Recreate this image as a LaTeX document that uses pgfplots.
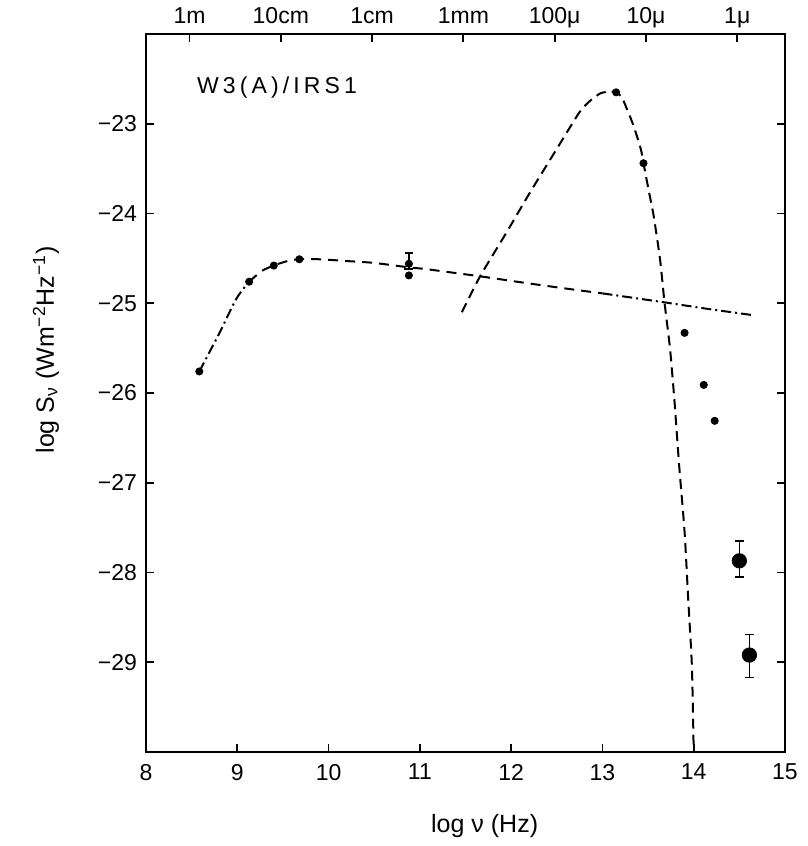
\documentclass[border=0pt]{standalone}
\usepackage{fontspec}
\setmainfont{Liberation Sans}
\usepackage{pgfplots}
\pgfplotsset{compat=1.18}
\begin{document}
\begin{tikzpicture}
\useasboundingbox (-73pt,-47pt) rectangle (331pt,376pt);
\begin{axis}[
  width=319.5pt, height=359pt, scale only axis,
  xmin=8, xmax=15, ymin=-30, ymax=-22,
  xtick={8,9,10,11,12,13,14,15},
  xticklabels={8,9,10,11,12,13,14,15},
  ytick={-29,-28,-27,-26,-25,-24,-23},
  yticklabels={−29,−28,−27,−26,−25,−24,−23},
  xtick pos=lower, ytick pos=both, tick align=inside,
  major tick length=4pt,
  axis line style={line width=1.2pt},
  tick style={line width=0.9pt, black},
  xticklabel style={yshift=-2.5pt, font=\fontsize{11.5}{13}\selectfont},
  yticklabel style={xshift=-1pt, font=\fontsize{11.5}{13}\selectfont},
  xlabel={log ν (Hz)},
  ylabel={log S\textsubscript{ν} (Wm\textsuperscript{−2}Hz\textsuperscript{−1})},
  xlabel style={at={(rel axis cs:0.53,-0.103)}, anchor=center, font=\fontsize{12.5}{14}\selectfont},
  ylabel style={at={(rel axis cs:-0.1565,0.56)}, anchor=center, font=\fontsize{12.5}{14}\selectfont},
  clip=false,
]
% free-free fit: rising part (dash-dot)
\addplot[black, line width=1pt, smooth, dash pattern=on 5pt off 2pt on 1pt off 2pt] coordinates {
 (8.584,-25.76) (8.81,-25.32) (8.99,-24.95) (9.13,-24.76)
};
% flat part (dashed)
\addplot[black, line width=1pt, smooth, dash pattern=on 5pt off 3.5pt] coordinates {
 (9.13,-24.76) (9.27,-24.64) (9.40,-24.58) (9.55,-24.53) (9.68,-24.51) (9.9,-24.51)
 (10.2,-24.53) (10.49,-24.55) (10.88,-24.60) (11.07,-24.62) (11.44,-24.67) (11.66,-24.70)
 (12.2,-24.78) (12.7,-24.85) (13.0,-24.89)
};
% tail (dash-dot)
\addplot[black, line width=1pt, dash pattern=on 5pt off 2pt on 1pt off 2pt] coordinates {
 (13.0,-24.89) (13.68,-24.99) (14.2,-25.07) (14.63,-25.13)
};
% dust curve
\addplot[black, line width=1pt, smooth, tension=0.4, dash pattern=on 5pt off 3pt] coordinates {
 (11.46,-25.10) (11.66,-24.70) (11.95,-24.21) (12.21,-23.76) (12.50,-23.28)
 (12.75,-22.87) (12.87,-22.74) (12.98,-22.66) (13.09,-22.64) (13.15,-22.65)
 (13.21,-22.70) (13.27,-22.84) (13.34,-23.02) (13.42,-23.28) (13.45,-23.44)
 (13.51,-23.76) (13.56,-24.02) (13.63,-24.50) (13.68,-24.99) (13.74,-25.5)
 (13.79,-26.1) (13.84,-26.8) (13.90,-27.55) (13.94,-28.3) (13.98,-29.04) (14.00,-30.0)
};
% small data points
\addplot[only marks, mark=*, mark size=1.8pt, black] coordinates {
 (8.584,-25.76) (9.13,-24.76) (9.40,-24.58) (9.68,-24.51) (10.88,-24.69)
 (13.15,-22.65) (13.45,-23.44) (13.90,-25.33) (14.11,-25.91) (14.23,-26.31)
};
% point with error bar
\addplot[only marks, mark=*, mark size=1.8pt, black,
  error bars/.cd, y dir=both, y explicit,
  error bar style={line width=0.8pt},
  error mark options={rotate=90, mark size=2.2pt, line width=0.8pt}] coordinates {
 (10.88,-24.56) += (0,0.12) -= (0,0.06)
};
% large points with error bars
\addplot[only marks, mark=*, mark size=3.6pt, black,
  error bars/.cd, y dir=both, y explicit,
  error bar style={line width=0.8pt},
  error mark options={rotate=90, mark size=2.2pt, line width=0.8pt}] coordinates {
 (14.50,-27.87) += (0,0.22) -= (0,0.18)
 (14.61,-28.92) += (0,0.23) -= (0,0.25)
};
\node[font=\fontsize{11.5}{13}\selectfont\addfontfeature{LetterSpace=18}] at (rel axis cs:0.205,0.926) {W3(A)/IRS1};
\end{axis}
\begin{axis}[
  width=319.5pt, height=359pt, scale only axis,
  xmin=8, xmax=15, ymin=-30, ymax=-22,
  hide y axis,
  xtick pos=upper, xticklabel pos=upper,
  xtick={8.477,9.477,10.477,11.477,12.477,13.477,14.477},
  xticklabels={1m,10cm,1cm,1mm,100μ,10μ,1μ},
  tick align=inside, major tick length=4pt,
  axis line style={line width=1.2pt},
  tick style={line width=0.9pt, black},
  xticklabel style={anchor=base, yshift=5pt, font=\fontsize{11.5}{13}\selectfont},
]
\addplot[draw=none] coordinates {(8,-30)};
\end{axis}
\end{tikzpicture}
\end{document}
